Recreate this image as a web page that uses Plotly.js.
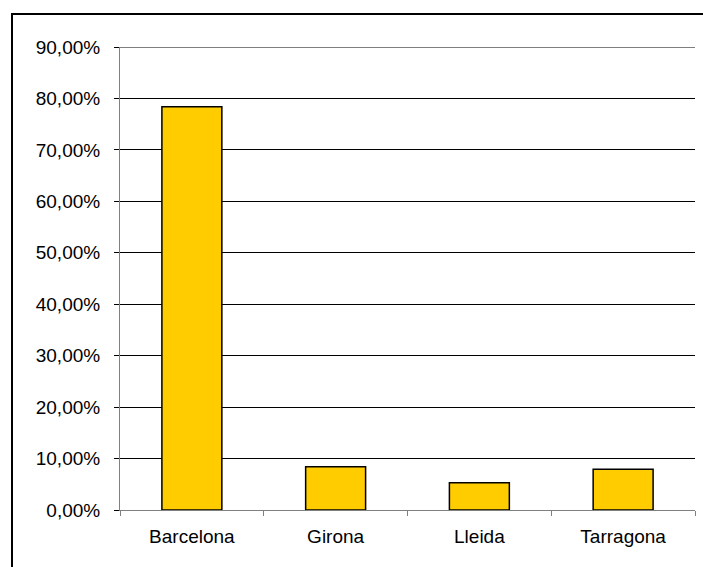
<!DOCTYPE html>
<html>
<head>
<meta charset="utf-8">
<script src="https://cdn.plot.ly/plotly-3.0.1.min.js"></script>
<style>
  html, body { margin: 0; padding: 0; background: #fff; overflow: hidden; }
  #wrap { position: relative; width: 703px; height: 567px; }
  #chart { position: absolute; left: 0; top: 0; width: 703px; height: 567px; }
  #frame { position: absolute; left: 11px; top: 13px; width: 720px; height: 600px; border: 2px solid #000; box-sizing: border-box; pointer-events: none; }
</style>
</head>
<body>
<div id="wrap">
  <div id="chart"></div>
  <div id="frame"></div>
</div>
<script>
const categories = ["Barcelona", "Girona", "Lleida", "Tarragona"];
const shares = [0.784, 0.084, 0.053, 0.079];
const yTicks = [0, 0.1, 0.2, 0.3, 0.4, 0.5, 0.6, 0.7, 0.8, 0.9];

const FONT = "Liberation Sans, Arial, sans-serif";
const yMax = yTicks[yTicks.length - 1];

const trace = {
  type: "bar",
  x: categories,
  y: shares,
  width: 0.417,
  marker: { color: "#FFCC00", line: { color: "#000000", width: 1.5 } },
  hoverinfo: "skip"
};

const layout = {
  width: 703,
  height: 567,
  margin: { l: 120, r: 8, t: 46.5, b: 57, pad: 0 },
  paper_bgcolor: "#ffffff",
  plot_bgcolor: "#ffffff",
  separators: ", ",
  showlegend: false,
  font: { family: FONT, size: 19, color: "#000" },
  shapes: [{
    type: "line", xref: "paper", yref: "y",
    x0: 0, x1: 1, y0: yMax, y1: yMax,
    line: { color: "#000000", width: 1 }, layer: "below"
  }],
  xaxis: {
    type: "category",
    showline: true,
    linecolor: "#808080",
    linewidth: 1,
    ticks: "outside",
    tickson: "boundaries",
    ticklen: 5,
    tickcolor: "#808080",
    ticklabelstandoff: 9,
    showgrid: false,
    tickfont: { family: FONT, size: 19, color: "#000" },
    fixedrange: true
  },
  yaxis: {
    range: [0, yMax],
    tickvals: yTicks,
    tickformat: ".2%",
    showline: true,
    linecolor: "#808080",
    linewidth: 1,
    ticks: "outside",
    ticklen: 5,
    tickcolor: "#000",
    ticklabelstandoff: 10,
    showgrid: true,
    gridcolor: "#000000",
    gridwidth: 1,
    zeroline: false,
    tickfont: { family: FONT, size: 19, color: "#000" },
    fixedrange: true
  }
};

Plotly.newPlot("chart", [trace], layout, { displayModeBar: false, staticPlot: true });
</script>
</body>
</html>
